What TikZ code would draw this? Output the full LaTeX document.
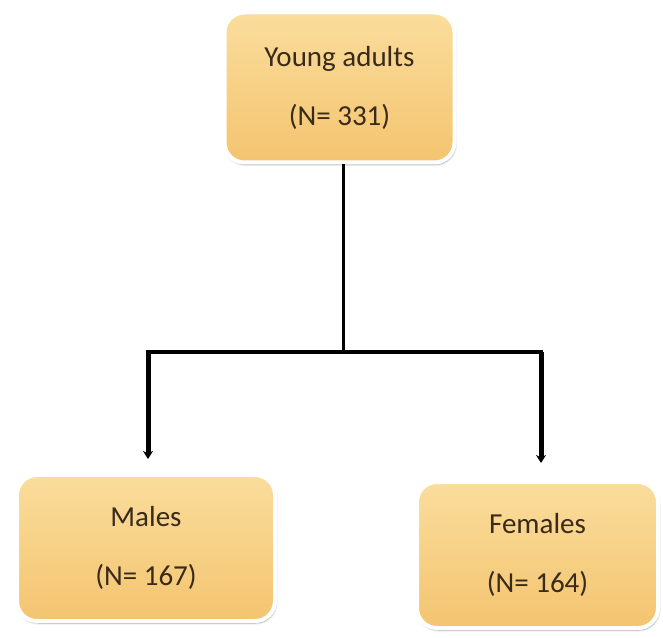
\documentclass[tikz,border=0pt]{standalone}
\usepackage{fontspec}
\setmainfont{Carlito}
\usetikzlibrary{arrows.meta,shadows.blur}
\definecolor{boxtop}{HTML}{FADD9C}
\definecolor{boxbot}{HTML}{F4C470}
\definecolor{txt}{HTML}{3A2A1A}
\tikzset{
  agebox/.style={rectangle, rounded corners=20pt, draw=white, line width=4pt,
    top color=boxtop, bottom color=boxbot,
    blur shadow={shadow xshift=1pt, shadow yshift=-2pt, shadow blur steps=8, shadow opacity=40},
    align=center, font=\fontsize{29}{34}\selectfont, text=txt, inner sep=0pt},
  linkline/.style={line width=3pt, black},
  branchline/.style={line width=5pt, black, -{Stealth[length=8pt,width=10pt]}}
}
\begin{document}
\begin{tikzpicture}[x=1pt,y=1pt]
\useasboundingbox (0,0) rectangle (663,637);
\node[agebox, minimum width=230pt, minimum height=150pt] (top) at (339.5,549.5)
  {Young adults\\[25pt](N= 331)};
\node[agebox, minimum width=258pt, minimum height=146pt] (left) at (146,89)
  {Males\\[25pt](N= 167)};
\node[agebox, minimum width=241pt, minimum height=146pt] (right) at (537.5,82)
  {Females\\[25pt](N= 164)};
\coordinate (j) at (343,285);
\coordinate (hl) at (148,285);
\coordinate (hr) at (541,285);
\draw[linkline] (j |- top.south) -- (j);
\draw[line width=4pt, black, line cap=rect] (hl) -- (hr);
\draw[branchline, shorten >=14pt] (hl) -- (hl |- left.north);
\draw[branchline, shorten >=17pt] (hr) -- (hr |- right.north);
\end{tikzpicture}
\end{document}
